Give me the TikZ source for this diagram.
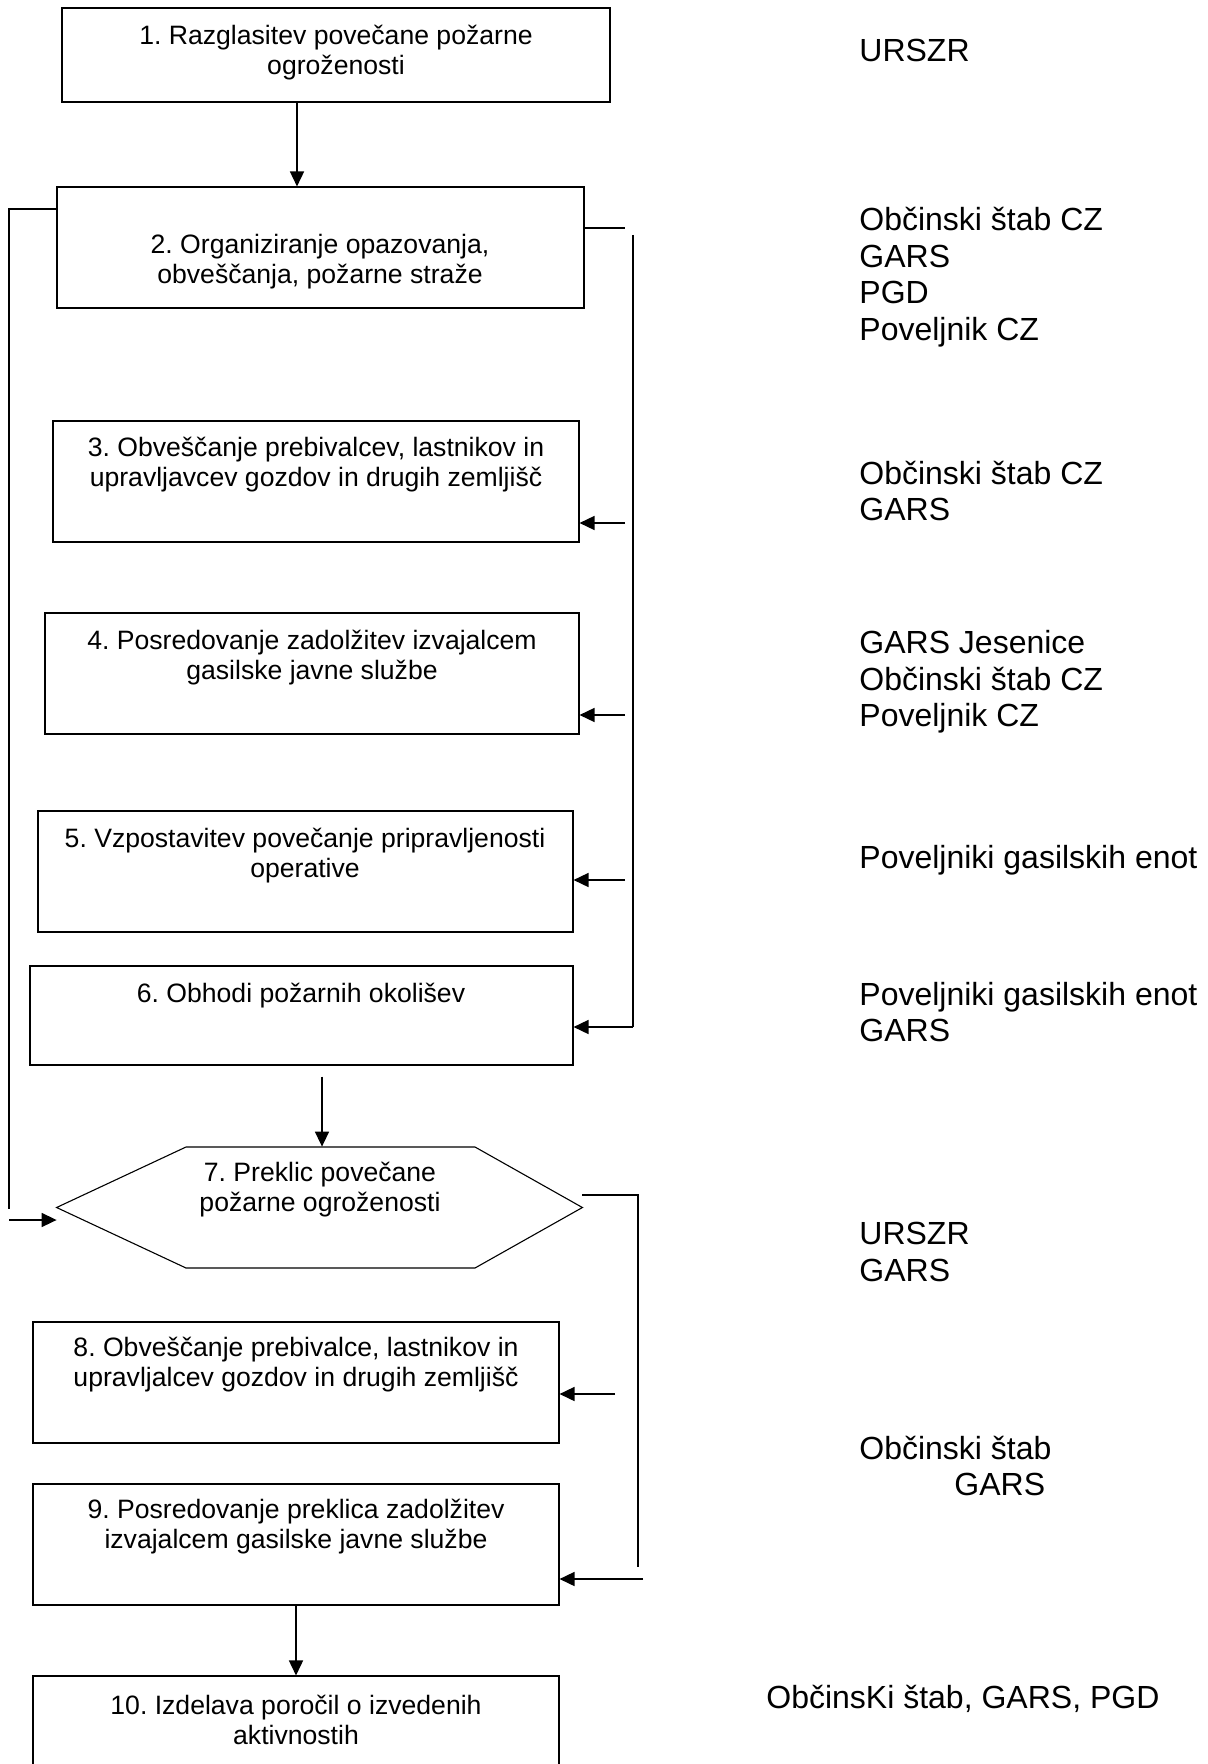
\documentclass[tikz,border=0pt]{standalone}
\usepackage{fontspec}
\setmainfont{Liberation Sans}
\usepackage{xcolor}
\definecolor{Black}{RGB}{0,0,0}
\definecolor{White}{RGB}{255,255,255}
\newcommand{\stepfont}{\fontsize{13.3}{15}\selectfont}
\newcommand{\rolefont}{\fontsize{16}{18.3}\selectfont}
\usepackage{tikz}
\usetikzlibrary{arrows.meta, fit}
\frenchspacing

\begin{document}
\begin{tikzpicture}[x=0.5pt, y=-0.5pt,
		stepbox/.style={draw=Black, line width=0.55pt, inner sep=0pt},
		steptext/.style={align=center, font=\stepfont, inner sep=0pt},
		role/.style={anchor=west, align=left, font=\rolefont, inner sep=0pt},
		flow/.style={draw=Black, line width=0.8pt},
		arrow/.style={flow, -{Triangle[length=7.5pt, width=7pt]}}]
		
		\useasboundingbox[fill=White] (0,0) rectangle (1208,1764);
		
		% Rectangle
		\node[stepbox, fit={(62,8) (610,102)}] (s1) {};
		\node[stepbox, fit={(57,187) (584,308)}] (s2) {};
		\node[stepbox, fit={(53,421) (579,542)}] (s3) {};
		\node[stepbox, fit={(45,613) (579,734)}] (s4) {};
		\node[stepbox, fit={(38,811) (573,932)}] (s5) {};
		\node[stepbox, fit={(30,966) (573,1065)}] (s6) {};
		\node[inner sep=0pt, fit={(57,1147) (582,1268)}] (s7) {};
		\draw[stepbox] (s7.west) -- (186,1147) -- (475,1147) -- (s7.east) -- (475,1268) -- (186,1268) -- cycle;
		\node[stepbox, fit={(33,1322) (559,1443)}] (s8) {};
		\node[stepbox, fit={(33,1484) (559,1605)}] (s9) {};
		\node[stepbox, fit={(33,1676) (559,1790)}] (s10) {};
		
		% Text
		\node[steptext] (t1) at (336,53) {1. Razglasitev povečane požarne\\ogroženosti};
		\node[steptext] (t2) at (320,262) {2. Organiziranje opazovanja,\\obveščanja, požarne straže};
		\node[steptext] (t3) at (316,465) {3. Obveščanje prebivalcev, lastnikov in\\upravljavcev gozdov in drugih zemljišč};
		\node[steptext] (t4) at (312,658) {4. Posredovanje zadolžitev izvajalcem\\gasilske javne službe};
		\node[steptext] (t5) at (305,856) {5. Vzpostavitev povečanje pripravljenosti\\operative};
		\node[steptext] (t6) at (301,996) {6. Obhodi požarnih okolišev};
		\node[steptext] (t7) at (320,1190) {7. Preklic povečane\\požarne ogroženosti};
		\node[steptext] (t8) at (296,1365) {8. Obveščanje prebivalce, lastnikov in\\upravljalcev gozdov in drugih zemljišč};
		\node[steptext] (t9) at (296,1527) {9. Posredovanje preklica zadolžitev\\izvajalcem gasilske javne službe};
		\node[steptext] (t10) at (296,1720) {10. Izdelava poročil o izvedenih\\aktivnostih};
		
		% Responsible
		\node[role] (r1) at (859,50) {URSZR};
		\node[role] (r2) at (859,277) {Občinski štab CZ\\GARS\\PGD\\Poveljnik CZ};
		\node[role] (r3) at (859,491) {Občinski štab CZ\\GARS};
		\node[role] (r4) at (859,682) {GARS Jesenice\\Občinski štab CZ\\Poveljnik CZ};
		\node[role] (r5) at (859,860) {Poveljniki gasilskih enot};
		\node[role] (r6) at (859,1012) {Poveljniki gasilskih enot\\GARS};
		\node[role] (r7) at (859,1252) {URSZR\\GARS};
		\node[role] (r8) at (859,1466) {Občinski štab\\\hspace*{47.5pt}GARS};
		\node[role] (r9) at (766,1699) {ObčinsKi štab, GARS, PGD};
		
		% Flows
		\coordinate (c12) at (297,0);
		\coordinate (c67) at (322,0);
		\coordinate (c910) at (296,0);
		\draw[arrow] (s1.south -| c12) -- (s2.north -| c12);
		\draw[arrow] ([yshift=-5.5pt]s6.south -| c67) -- (s7.north -| c67);
		\draw[arrow] (s9.south -| c910) -- (s10.north -| c910);
		
		% Loop back to 7
		\coordinate (l1) at (9,209);
		\coordinate (l2) at (9,1209);
		\coordinate (l3) at (9,1220);
		\draw[flow] (s2.west |- l1) -- (l1) -- (l2);
		\draw[arrow] (l3) -- (s7.west |- l3);
		
		% Bus from 2
		\coordinate (b1s) at (625,228);
		\coordinate (b1t) at (633,235);
		\coordinate (b1b) at (633,1027);
		\draw[flow] (s2.east |- b1s) -- (b1s);
		\draw[flow] (b1t) -- (b1b);
		\draw[arrow] (b1b) -- (s6.east |- b1b);
		\foreach \s/\y in {s3/523, s4/715, s5/880} {
			\coordinate (tip) at (625,\y);
			\draw[arrow] (tip) -- (\s.east |- tip);
		}
		
		% Bus from 7
		\coordinate (b2t) at (638,1195);
		\coordinate (b2b) at (638,1567);
		\coordinate (b2a) at (615,1394);
		\coordinate (b2c) at (643,1579);
		\draw[flow] (s7.east |- b2t) -- (b2t) -- (b2b);
		\draw[arrow] (b2a) -- (s8.east |- b2a);
		\draw[arrow] (b2c) -- (s9.east |- b2c);
		
	\end{tikzpicture}
\end{document}
